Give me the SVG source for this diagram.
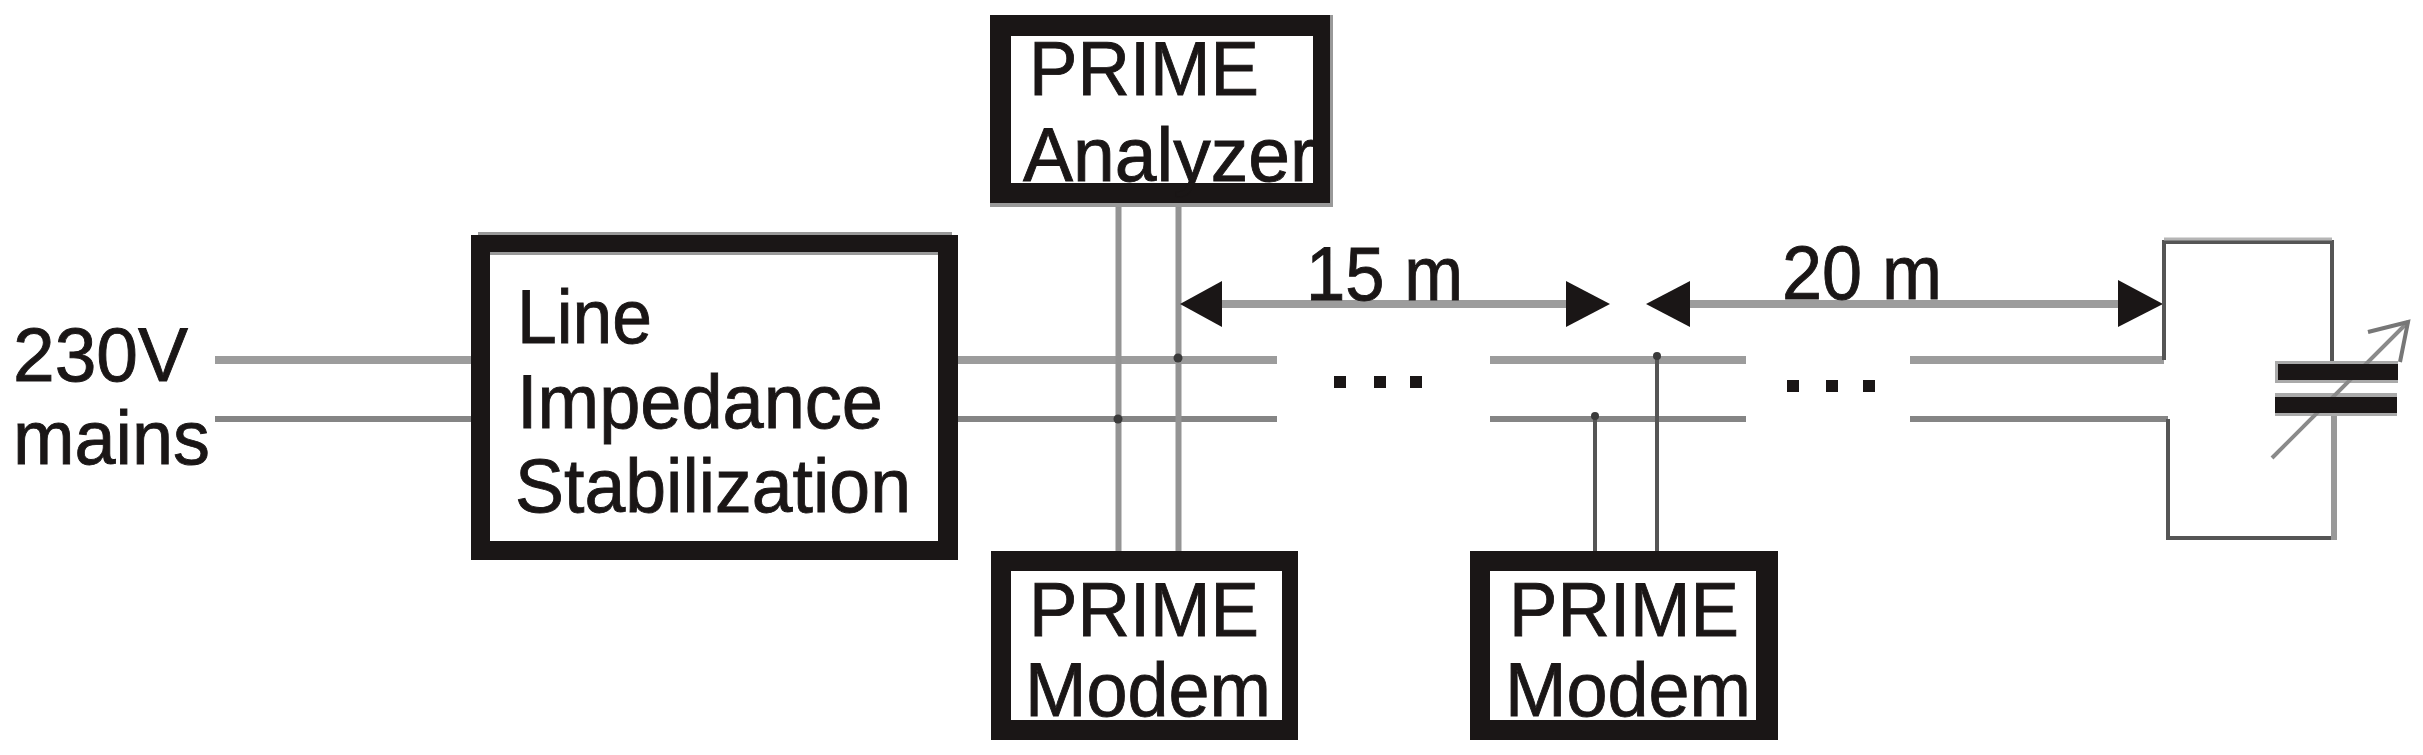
<svg xmlns="http://www.w3.org/2000/svg" width="2423" height="755" viewBox="0 0 2423 755">
<style>
text{font-family:"Liberation Sans",Arial,sans-serif;font-size:76px;fill:#1a1616;stroke:#1a1616;stroke-width:.9px}
.o{fill:#1a1616}.i{fill:#fff}.g{fill:#999}
.w{fill:none;stroke:#9c9c9c;stroke-width:8}
.m{fill:none;stroke:#858585;stroke-width:6}
.t{fill:none;stroke:#949494;stroke-width:6}
.d{fill:none;stroke:#555;stroke-width:4}
.c{fill:#3a3a3a}
.h{fill:#1a1616}
</style>
<rect width="2423" height="755" fill="#fff"/>
<g id="connectors">
<path class="w" d="M215 360H471M958 360H1277M1490 360H1746M1910 360H2164"/>
<path class="m" d="M215 419H471M958 419H1277M1490 419H1746M1910 419H2168"/>
<path class="t" d="M1118.500 207V551M1178.500 207V551"/>
<path class="d" d="M1595 417V551M1657 357V551"/>
<circle class="c" cx="1118" cy="419" r="4.500"/>
<circle class="c" cx="1178" cy="358" r="4.500"/>
<circle class="c" cx="1595" cy="416" r="4"/>
<circle class="c" cx="1657" cy="356" r="4"/>
<path class="w" d="M1222 304H1567M1690 304H2118"/>
<polygon class="h" points="1180,304 1222,281 1222,327"/>
<polygon class="h" points="1610,304 1566,281 1566,327"/>
<polygon class="h" points="1646,304 1690,281 1690,327"/>
<polygon class="h" points="2163,304 2118,280 2118,327"/>
</g>
<g id="ellipsis-1">
<rect class="h" x="1334" y="376" width="12" height="12"/>
<rect class="h" x="1374" y="376" width="12" height="12"/>
<rect class="h" x="1410" y="376" width="12" height="12"/>
</g>
<g id="ellipsis-2">
<rect class="h" x="1787" y="380" width="12" height="12"/>
<rect class="h" x="1826" y="380" width="12" height="12"/>
<rect class="h" x="1863" y="380" width="12" height="12"/>
</g>
<g id="mains-label">
<text x="13" y="381" textLength="175" lengthAdjust="spacingAndGlyphs">230V</text>
<text x="13" y="464" textLength="197" lengthAdjust="spacingAndGlyphs">mains</text>
</g>
<g id="lisn">
<rect class="g" x="478" y="232" width="474" height="6"/>
<rect class="o" x="471" y="235" width="487" height="325"/>
<rect class="g" x="490" y="252" width="448" height="4"/>
<rect class="i" x="490" y="255" width="448" height="286"/>
<text x="517" y="343" textLength="135" lengthAdjust="spacingAndGlyphs">Line</text>
<text x="517" y="428" textLength="366" lengthAdjust="spacingAndGlyphs">Impedance</text>
<text x="515" y="512" textLength="396" lengthAdjust="spacingAndGlyphs">Stabilization</text>
</g>
<g id="analyzer">
<rect class="g" x="990" y="15" width="343" height="192"/>
<rect class="o" x="990" y="15" width="340" height="188"/>
<rect class="i" x="1011" y="36" width="302" height="147"/>
<text x="1029" y="95" textLength="230" lengthAdjust="spacingAndGlyphs">PRIME</text>
<text x="1023" y="181" textLength="292" lengthAdjust="spacingAndGlyphs">Analyzer</text>
</g>
<g id="modem-1">
<rect class="o" x="991" y="551" width="307" height="189"/>
<rect class="i" x="1011" y="571" width="271" height="149"/>
<text x="1029" y="636" textLength="230" lengthAdjust="spacingAndGlyphs">PRIME</text>
<text x="1025" y="716" textLength="246" lengthAdjust="spacingAndGlyphs">Modem</text>
</g>
<g id="modem-2">
<rect class="o" x="1470" y="551" width="308" height="189"/>
<rect class="i" x="1490" y="571" width="266" height="149"/>
<text x="1509" y="636" textLength="230" lengthAdjust="spacingAndGlyphs">PRIME</text>
<text x="1505" y="716" textLength="246" lengthAdjust="spacingAndGlyphs">Modem</text>
</g>
<g id="distance-15m"><text x="1306" y="300" textLength="157" lengthAdjust="spacingAndGlyphs">15 m</text></g>
<g id="distance-20m"><text x="1782" y="299" textLength="160" lengthAdjust="spacingAndGlyphs">20 m</text></g>
<g id="capacitor">
<path class="d" d="M2164 360V242H2332V366"/>
<path class="d" d="M2168 419V538H2334"/>
<path fill="none" stroke="#b5b5b5" stroke-width="3" d="M2164 239H2332"/>
<path fill="none" stroke="#999" stroke-width="6" d="M2334 415V540"/>
<rect x="2275" y="361" width="123" height="22" fill="#aaa"/>
<rect x="2275" y="393" width="122" height="23" fill="#aaa"/>
<path fill="none" stroke="#8a8a8a" stroke-width="4" d="M2272 458L2408 322"/>
<path fill="none" stroke="#777" stroke-width="4" d="M2368 332L2408 322L2400 362"/>
<rect class="o" x="2278" y="364" width="120" height="16"/>
<rect class="o" x="2275" y="397" width="122" height="16"/>
</g>
</svg>
